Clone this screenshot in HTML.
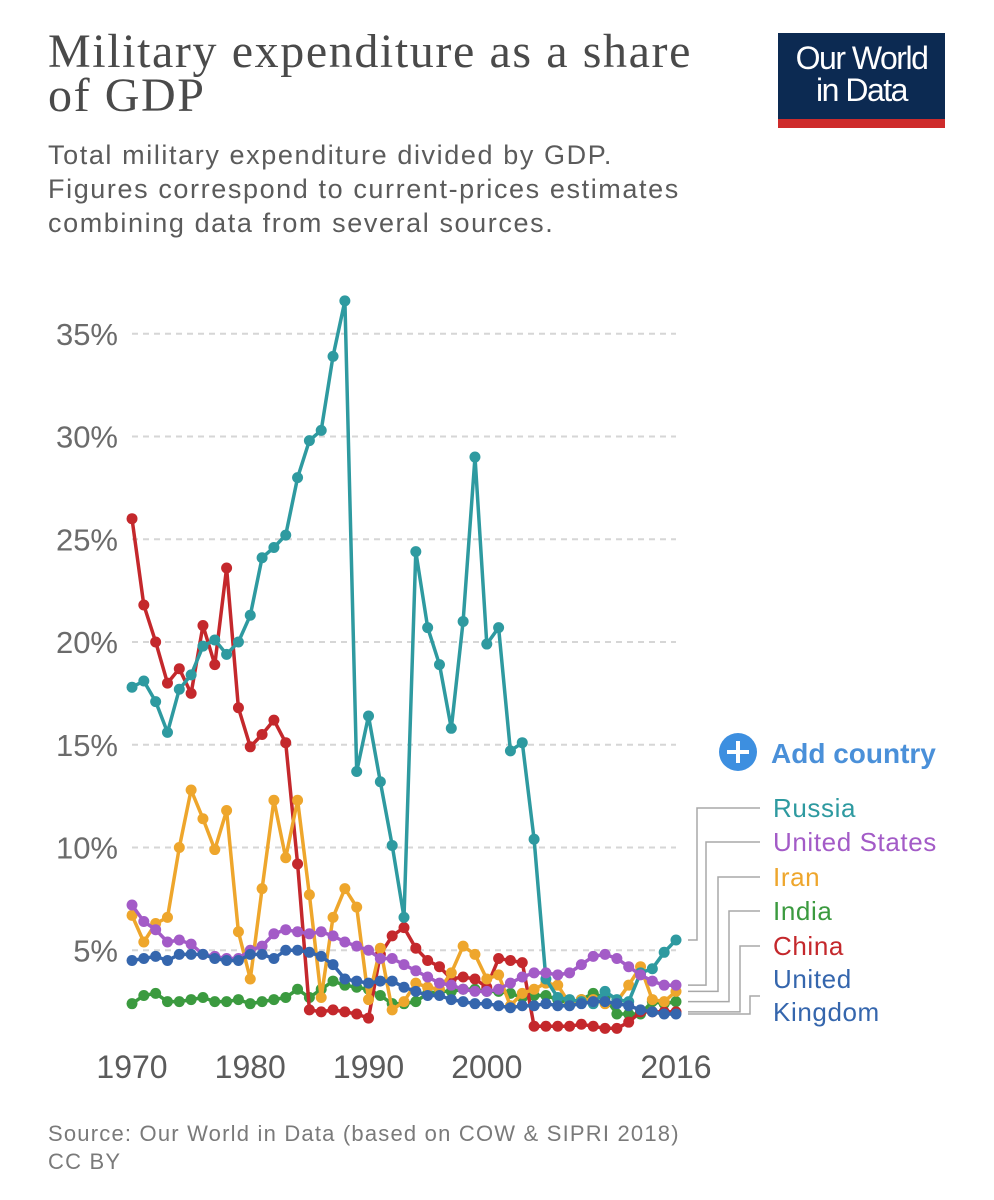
<!DOCTYPE html>
<html><head><meta charset="utf-8">
<style>
body{margin:0;background:#fff;width:994px;height:1200px;overflow:hidden;position:relative;font-family:"Liberation Sans",sans-serif}
.t{position:absolute;left:48px;top:30px;font-family:"Liberation Serif",serif;font-size:48px;letter-spacing:1.6px;line-height:44px;color:#4a4a4a}
.s{position:absolute;left:48px;top:138px;font-size:27px;letter-spacing:1.6px;line-height:34px;color:#5b5b5b}
.logo{position:absolute;left:778px;top:33px;width:167px;height:95px;background:#0c2a52;color:#fff;font-size:32px;line-height:32px;text-align:center;box-sizing:border-box;padding-top:9px;letter-spacing:-1.5px}
.logo:after{content:"";position:absolute;left:0;bottom:0;width:100%;height:9px;background:#ce2b2b}
.src{position:absolute;left:48px;top:1120px;font-size:22px;letter-spacing:1.2px;line-height:28px;color:#7a7a7a}
</style></head><body>
<div class="t">Military expenditure as a share<br>of GDP</div>
<div class="s">Total military expenditure divided by GDP.<br>Figures correspond to current-prices estimates<br>combining data from several sources.</div>
<div class="logo">Our World<br>in Data</div>
<svg id="c" width="994" height="1200" style="position:absolute;left:0;top:0"></svg>
<div class="src">Source: Our World in Data (based on COW &amp; SIPRI 2018)<br>CC BY</div>
<script>
const years=[];for(let y=1970;y<=2016;y++)years.push(y);
const yTicks=[5,10,15,20,25,30,35];
const xTicks=[1970,1980,1990,2000,2016];
const russia=[17.8,18.1,17.1,15.6,17.7,18.4,19.8,20.1,19.4,20.0,21.3,24.1,24.6,25.2,28.0,29.8,30.3,33.9,36.6,13.7,16.4,13.2,10.1,6.6,24.4,20.7,18.9,15.8,21.0,29.0,19.9,20.7,14.7,15.1,10.4,3.6,2.7,2.6,2.5,2.4,3.0,2.6,2.5,3.9,4.1,4.9,5.5];
const usa=[7.2,6.4,6.0,5.4,5.5,5.3,4.8,4.7,4.6,4.6,5.0,5.2,5.8,6.0,5.9,5.8,5.9,5.7,5.4,5.2,5.0,4.6,4.6,4.3,4.0,3.7,3.4,3.3,3.1,3.0,3.0,3.1,3.4,3.7,3.9,3.9,3.8,3.9,4.3,4.7,4.8,4.6,4.2,3.8,3.5,3.3,3.3];
const iran=[6.7,5.4,6.3,6.6,10.0,12.8,11.4,9.9,11.8,5.9,3.6,8.0,12.3,9.5,12.3,7.7,2.7,6.6,8.0,7.1,2.6,5.1,2.1,2.5,3.4,3.2,3.1,3.9,5.2,4.8,3.6,3.8,2.3,2.9,3.1,3.4,3.3,2.4,2.6,2.6,2.4,2.5,3.3,4.2,2.6,2.5,3.0];
const india=[2.4,2.8,2.9,2.5,2.5,2.6,2.7,2.5,2.5,2.6,2.4,2.5,2.6,2.7,3.1,2.7,3.1,3.5,3.3,3.2,3.1,2.8,2.4,2.4,2.5,2.9,3.0,3.0,3.1,3.1,3.0,3.0,2.9,2.7,2.8,2.8,2.6,2.4,2.6,2.9,2.7,1.9,1.9,1.9,2.5,2.4,2.5];
const china=[26.0,21.8,20.0,18.0,18.7,17.5,20.8,18.9,23.6,16.8,14.9,15.5,16.2,15.1,9.2,2.1,2.0,2.1,2.0,1.9,1.7,4.8,5.7,6.1,5.1,4.5,4.2,3.6,3.7,3.6,3.2,4.6,4.5,4.4,1.3,1.3,1.3,1.3,1.4,1.3,1.2,1.2,1.5,2.0,2.0,2.0,2.0];
const uk=[4.5,4.6,4.7,4.5,4.8,4.8,4.8,4.6,4.5,4.5,4.8,4.8,4.6,5.0,5.0,4.9,4.7,4.3,3.6,3.5,3.4,3.5,3.5,3.2,3.0,2.8,2.8,2.6,2.5,2.4,2.4,2.3,2.2,2.3,2.3,2.4,2.3,2.3,2.4,2.5,2.5,2.4,2.3,2.1,2.0,1.9,1.9];
const names=["Russia","United States","Iran","India","China","United Kingdom"];
const series=[russia,usa,iran,india,china,uk];
const colors=["#2e9aa0","#a35bc7","#eea62c","#3b9a3f","#c4282c","#3566ad"];
const order=[3,4,2,0,1,5];
const X=y=>132+(y-1970)*(676-132)/46;
const Y=v=>1053-v*20.55;
const svg=document.getElementById('c');const NS="http://www.w3.org/2000/svg";
function mk(t,a){const e=document.createElementNS(NS,t);for(const k in a)e.setAttribute(k,a[k]);svg.appendChild(e);return e;}
yTicks.forEach(v=>{
 const l=mk('line',{x1:132,x2:676,y1:Y(v),y2:Y(v),stroke:'#d6d6d6','stroke-width':2,'stroke-dasharray':'6,5'});
 
 
 const t=mk('text',{x:118,y:Y(v)+11,'text-anchor':'end','font-size':31,fill:'#6b6b6b','font-family':'Liberation Sans'});t.textContent=v+'%';
 
 
});
xTicks.forEach(v=>{
 const t=mk('text',{x:X(v),y:1078,'text-anchor':'middle','font-size':32,fill:'#5b5b5b','font-family':'Liberation Sans'});t.textContent=v;
 
 
});
order.forEach(i=>{
 const d=series[i].map((v,j)=>(j?'L':'M')+X(years[j]).toFixed(1)+','+Y(v).toFixed(1)).join('');
 const p=mk('path',{d:d,fill:'none',stroke:colors[i],'stroke-width':3.5,'stroke-linejoin':'round'});
 
 
 series[i].forEach((v,j)=>{const c=mk('circle',{cx:X(years[j]),cy:Y(v),r:5.5,fill:colors[i]});
  
  });
});
const labY=[808,842,877,911,946,996];
const vx=[697,706,718,729,740,750];
series.forEach((s,i)=>{
 const yv=Y(s[s.length-1]);
 const p=mk('path',{d:`M688,${yv}H${vx[i]}V${labY[i]}H760`,fill:'none',stroke:'#a8a8a8','stroke-width':1.5});
 
 
});
const lab=[["Russia"],["United States"],["Iran"],["India"],["China"],["United","Kingdom"]];
lab.forEach((ls,i)=>{
 const t=mk('text',{x:773,y:i<5?labY[i]+9:988,'font-size':26,'letter-spacing':0.6,fill:colors[i],'font-family':'Liberation Sans'});
 
 
 ls.forEach((s,k)=>{const ts=document.createElementNS(NS,'tspan');ts.setAttribute('x',773);if(k)ts.setAttribute('dy',33);ts.textContent=s;t.appendChild(ts);});
});
const g=mk('g',{});
const ci=document.createElementNS(NS,'circle');ci.setAttribute('cx',738);ci.setAttribute('cy',752);ci.setAttribute('r',19);ci.setAttribute('fill','#3d8fe0');g.appendChild(ci);
const pl=document.createElementNS(NS,'path');pl.setAttribute('d','M727,752H749M738,741V763');pl.setAttribute('stroke','#fff');pl.setAttribute('stroke-width',4);g.appendChild(pl);
const at=document.createElementNS(NS,'text');at.setAttribute('x',771);at.setAttribute('y',763);at.setAttribute('font-size',28);at.setAttribute('font-weight','bold');at.setAttribute('fill','#4a90d9');at.setAttribute('font-family','Liberation Sans');at.textContent='Add country';g.appendChild(at);
</script>
</body></html>
